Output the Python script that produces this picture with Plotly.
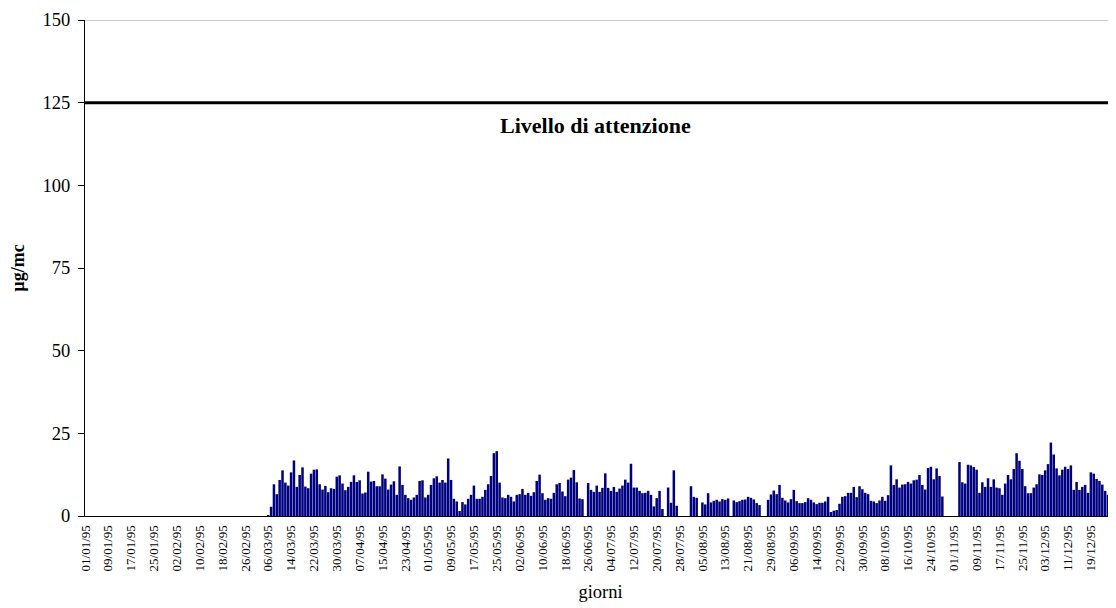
import plotly.graph_objects as go

# Daily concentrations (µg/mc), 1995, one list per month (None = no data)
jan = [0.0] * 31
feb = [0.0] * 28
mar = [0, 0, 0, 0, 0, 0.3, 2.8, 9.6, 6.6, 10.9, 13.8, 10.1, 9.2, 13.2, 16.8,
       8.8, 12.4, 14.7, 8.9, 8.4, 12.8, 14.0, 14.1, 9.6, 8.0, 9.1, 7.2, 8.4,
       8.2, 11.9, 12.3]
apr = [9.8, 7.8, 8.8, 10.3, 12.3, 10.3, 10.8, 6.8, 7.1, 13.4, 10.4, 10.6, 9.0,
       9.0, 12.6, 11.3, 8.0, 9.5, 10.5, 6.4, 15.0, 9.4, 6.4, 5.4, 4.9, 5.6,
       6.4, 10.6, 10.8, 5.6]
may = [6.4, 9.4, 11.4, 12.0, 10.1, 10.9, 10.1, 17.4, 10.9, 5.2, 4.4, 1.5, 4.2,
       3.5, 5.2, 6.4, 9.2, 5.2, 5.2, 5.8, 7.9, 9.6, 12.1, 19.0, 19.6, 10.1,
       5.6, 5.4, 6.4, 5.8, 4.4]
jun = [6.4, 6.6, 8.2, 6.4, 7.0, 6.1, 7.2, 10.6, 12.5, 6.9, 4.9, 5.4, 5.2, 7.0,
       9.6, 10.0, 7.4, 6.0, 11.0, 11.6, 13.9, 10.2, 5.3, 5.1, None, 10.0, 7.9,
       7.3, 9.2, 7.3]
jul = [8.5, 12.9, 8.5, 7.6, 8.8, 7.3, 8.3, 9.2, 11.0, 10.1, 15.8, 8.6, 8.6,
       7.6, 6.9, 7.0, 7.6, 6.4, 2.9, 5.4, 7.6, 2.1, None, 8.6, 4.0, 13.8, 3.1,
       None, None, None, None]
aug = [9.0, 5.8, 5.5, None, 4.1, 3.5, 6.9, 4.1, 4.6, 4.9, 4.4, 5.1, 4.9, 5.3,
       None, 4.7, 4.2, 4.5, 4.9, 5.0, 5.8, 5.5, 5.0, 3.9, 3.3, None, None,
       4.9, 6.5, 7.7, 6.6]
sep = [9.4, 5.5, 4.7, 4.1, 5.1, 7.9, 4.5, 3.9, 3.9, 4.2, 5.4, 4.9, 4.1, 3.6,
       4.0, 4.0, 4.4, 5.8, 1.2, 1.6, 1.8, 3.7, 5.8, 6.0, 7.0, 7.0, 8.8, 5.7,
       9.0, 8.1]
oct_ = [7.0, 6.6, 4.6, 4.4, 3.9, 4.7, 5.8, 4.6, 6.3, 15.3, 9.4, 11.1, 8.6, 9.5,
        9.6, 10.3, 9.8, 10.8, 11.0, 12.4, 9.4, 8.0, 14.5, 14.9, 11.1, 14.4,
        12.1, 5.9, None, None, None]
nov = [None, None, 16.3, 10.2, 9.8, 15.5, 15.3, 14.8, 14.0, 7.0, 10.2, 8.8,
       11.4, 8.8, 11.1, 8.6, 8.4, 6.4, 9.8, 12.4, 11.1, 14.2, 19.0, 16.7, 14.2,
       9.0, 6.9, 6.9, 8.6, 9.6]
dec = [12.6, 12.4, 13.8, 15.7, 22.2, 18.6, 14.4, 12.3, 14.0, 14.9, 14.2, 15.3,
       7.9, 10.3, 7.9, 8.8, 9.4, 7.0, 13.2, 12.8, 11.2, 10.6, 9.5, 7.6, 6.4,
       5.7, 5.9, 6.5, None, None, None]

values = jan + feb + mar + apr + may + jun + jul + aug + sep + oct_ + nov + dec
days = list(range(len(values)))

tick_days = list(range(0, 361, 8))
tick_labels = [
    "01/01/95", "09/01/95", "17/01/95", "25/01/95", "02/02/95", "10/02/95",
    "18/02/95", "26/02/95", "06/03/95", "14/03/95", "22/03/95", "30/03/95",
    "07/04/95", "15/04/95", "23/04/95", "01/05/95", "09/05/95", "17/05/95",
    "25/05/95", "02/06/95", "10/06/95", "18/06/95", "26/06/95", "04/07/95",
    "12/07/95", "20/07/95", "28/07/95", "05/08/95", "13/08/95", "21/08/95",
    "29/08/95", "06/09/95", "14/09/95", "22/09/95", "30/09/95", "08/10/95",
    "16/10/95", "24/10/95", "01/11/95", "09/11/95", "17/11/95", "25/11/95",
    "03/12/95", "11/12/95", "19/12/95", "27/12/95",
]

threshold = 125
threshold_label = "Livello di attenzione"

SERIF = "Liberation Serif, Times New Roman, serif"

fig = go.Figure()
fig.add_trace(go.Bar(x=days, y=values, marker=dict(color="#000080", line=dict(width=0)),
                     hoverinfo="x+y"))

# The page body adds an 8px offset; margins compensate so the plot area
# sits at x 85..1116, y 20..516 of the 1116x608 window.
fig.update_layout(
    width=1116, height=608,
    margin=dict(l=77, r=8, t=12, b=100, autoexpand=False),
    paper_bgcolor="white", plot_bgcolor="white",
    bargap=0.12,
    showlegend=False,
    font=dict(family=SERIF, color="black"),
    xaxis=dict(
        range=[-0.15, 360.8],
        tickmode="array", tickvals=tick_days, ticktext=tick_labels,
        tickangle=-90, tickfont=dict(family=SERIF, size=13, color="black"),
        ticklabelstandoff=3,
        showline=True, linecolor="black", linewidth=1,
        ticks="", showgrid=False, zeroline=False, automargin=False,
        title=dict(text="giorni", font=dict(family=SERIF, size=18.5, color="black"),
                   standoff=14),
    ),
    yaxis=dict(
        range=[0, 150], tickmode="linear", tick0=0, dtick=25,
        tickfont=dict(family=SERIF, size=18.5, color="black"),
        ticks="outside", ticklen=6, tickcolor="black", tickwidth=1,
        ticklabelstandoff=4,
        showline=True, linecolor="black", linewidth=1,
        showgrid=False, zeroline=False, automargin=False,
        title=dict(text="<b>µg/mc</b>", font=dict(family=SERIF, size=18, color="black"),
                   standoff=17),
    ),
    shapes=[
        dict(type="line", xref="paper", yref="y", x0=0, x1=1, y0=150, y1=150,
             line=dict(color="#9a9a9a", width=1)),
        dict(type="line", xref="paper", yref="y", x0=0, x1=1, y0=threshold, y1=threshold,
             line=dict(color="black", width=3)),
    ],
    annotations=[
        dict(text="<b>" + threshold_label + "</b>", xref="x", yref="y",
             x=178.7, y=118.2, showarrow=False, xanchor="center", yanchor="middle",
             font=dict(family=SERIF, size=22, color="black")),
    ],
)

fig.write_html("out.html")
